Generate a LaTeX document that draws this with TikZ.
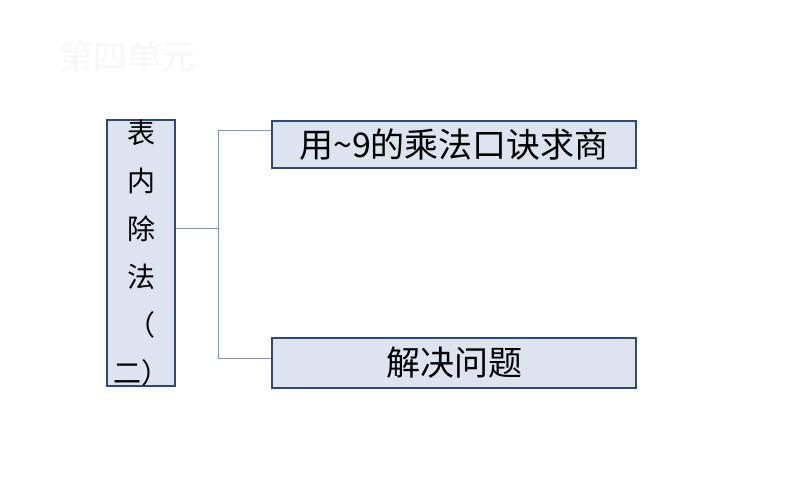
\documentclass[tikz,border=0pt]{standalone}
\usepackage{fontspec}
\newfontfamily\cjk{Noto Sans CJK SC}
\definecolor{bord}{HTML}{2E4A6E}
\definecolor{bfill}{HTML}{DDE3EF}
\definecolor{lk}{HTML}{7F97B8}
\begin{document}
\begin{tikzpicture}[x=1pt,y=-1pt,
  boxst/.style={draw=bord,line width=1.8pt,fill=bfill,inner sep=0pt},
  lnk/.style={draw=lk,line width=1pt}]
\useasboundingbox (0,0) rectangle (794,496);
\node[text=gray!6,font=\cjk\fontsize{34}{36}\selectfont] (title) at (127,57) {第四单元};
\node[boxst,minimum width=68pt,minimum height=246pt,font=\cjk\fontsize{28}{48}\selectfont,align=center] (L) at (141,253) {表\\内\\除\\法\\（\\二）};
\node[boxst,minimum width=364pt,minimum height=47pt,font=\cjk\fontsize{34}{36}\selectfont] (A) at (454,144.5) {用\textasciitilde9的乘法口诀求商};
\node[boxst,minimum width=364pt,minimum height=50pt,font=\cjk\fontsize{34}{36}\selectfont] (B) at (454,363) {解决问题};
\coordinate (j) at (218,228);
\draw[lnk] (L.east |- j) -- (j);
\draw[lnk] (A.west |- 0,130) -- (218,130) -- (218,358) -- (B.west |- 0,358);
\end{tikzpicture}
\end{document}
